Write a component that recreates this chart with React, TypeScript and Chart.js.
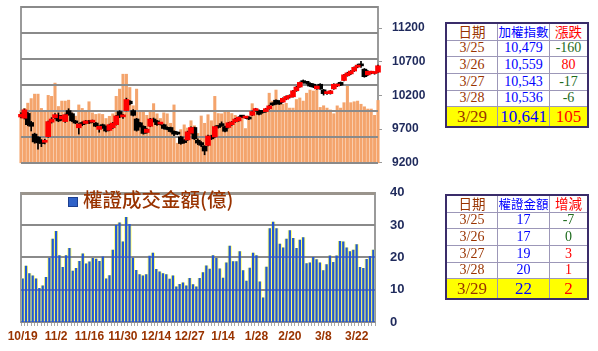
import React, { useEffect, useRef } from 'react';
import { Chart, registerables } from 'chart.js';

Chart.register(...registerables);

// ---------- DATA ----------
const DATES = [
  '10/19', '10/22', '10/23', '10/24', '10/25', '10/26', '10/29', '10/30', '10/31', '11/1',
  '11/2', '11/5', '11/6', '11/7', '11/8', '11/9', '11/12', '11/13', '11/14', '11/15',
  '11/16', '11/19', '11/20', '11/21', '11/22', '11/23', '11/26', '11/27', '11/28', '11/29',
  '11/30', '12/3', '12/4', '12/5', '12/6', '12/7', '12/10', '12/11', '12/12', '12/13',
  '12/14', '12/17', '12/18', '12/19', '12/20', '12/21', '12/22', '12/24', '12/25', '12/26',
  '12/27', '12/28', '1/2', '1/3', '1/4', '1/7', '1/8', '1/9', '1/10', '1/11',
  '1/14', '1/15', '1/16', '1/17', '1/18', '1/21', '1/22', '1/23', '1/24', '1/25',
  '1/28', '1/29', '1/30', '2/11', '2/12', '2/13', '2/14', '2/15', '2/18', '2/19',
  '2/20', '2/21', '2/22', '2/25', '2/26', '2/27', '3/4', '3/5', '3/6', '3/7',
  '3/8', '3/11', '3/12', '3/13', '3/14', '3/15', '3/18', '3/19', '3/20', '3/21',
  '3/22', '3/25', '3/26', '3/27', '3/28', '3/29',
];

const OPEN = [
  9880, 9862, 9933, 9798, 9626, 9580, 9532, 9505, 9588, 9803,
  9868, 9905, 9850, 9812, 9975, 9929, 9822, 9720, 9798, 9784,
  9822, 9803, 9790, 9696, 9766, 9742, 9682, 9720, 9766, 9961,
  9882, 9975, 10115, 9975, 9850, 9794, 9742, 9650, 9742, 9850,
  9822, 9775, 9766, 9724, 9724, 9668, 9650, 9584, 9530, 9540,
  9640, 9724, 9535, 9500, 9444, 9458, 9598, 9584, 9738, 9780,
  9738, 9724, 9766, 9808, 9822, 9892, 9864, 9878, 9905, 9975,
  9975, 9961, 9960, 10003, 10080, 10129, 10115, 10101, 10143, 10171,
  10180, 10269, 10325, 10408, 10390, 10380, 10366, 10297, 10366, 10283,
  10227, 10227, 10297, 10339, 10394, 10422, 10492, 10520, 10562, 10620,
  10665, 10590, 10505, 10530, 10525, 10545,
];
const HIGH = [
  9945, 10000, 9950, 9815, 9640, 9590, 9545, 9550, 9820, 9870,
  9930, 9940, 9905, 9925, 10003, 9940, 9830, 9785, 9810, 9830,
  9830, 9835, 9800, 9750, 9775, 9750, 9775, 9800, 9905, 9975,
  9920, 10160, 10125, 9990, 9860, 9800, 9750, 9710, 9860, 9865,
  9830, 9795, 9775, 9735, 9730, 9675, 9660, 9595, 9545, 9670,
  9735, 9730, 9555, 9515, 9455, 9610, 9610, 9745, 9750, 9808,
  9745, 9800, 9815, 9860, 9885, 9900, 9885, 9885, 9970, 10010,
  9985, 9970, 10010, 10055, 10090, 10135, 10125, 10165, 10195, 10210,
  10275, 10335, 10400, 10430, 10400, 10390, 10375, 10345, 10375, 10290,
  10250, 10275, 10375, 10375, 10400, 10515, 10545, 10570, 10625, 10665,
  10705, 10600, 10570, 10560, 10550, 10650,
];
const LOW = [
  9865, 9850, 9750, 9672, 9490, 9403, 9440, 9480, 9580, 9790,
  9850, 9810, 9830, 9800, 9905, 9810, 9780, 9626, 9750, 9775,
  9780, 9795, 9735, 9654, 9710, 9660, 9675, 9710, 9760, 9870,
  9860, 9970, 10060, 9895, 9670, 9730, 9625, 9640, 9735, 9805,
  9755, 9760, 9700, 9690, 9655, 9602, 9615, 9475, 9490, 9530,
  9630, 9545, 9470, 9440, 9319, 9450, 9545, 9575, 9715, 9740,
  9660, 9715, 9755, 9800, 9815, 9870, 9855, 9840, 9900, 9965,
  9910, 9935, 9950, 9995, 10050, 10065, 10065, 10095, 10135, 10160,
  10175, 10260, 10320, 10380, 10370, 10330, 10315, 10290, 10290, 10205,
  10215, 10220, 10290, 10330, 10345, 10415, 10485, 10510, 10555, 10610,
  10615, 10470, 10495, 10520, 10515, 10540,
];
const CLOSE = [
  9920, 9987, 9766, 9742, 9510, 9496, 9486, 9532, 9812, 9850,
  9915, 9822, 9896, 9915, 9915, 9822, 9790, 9776, 9766, 9822,
  9790, 9822, 9742, 9742, 9720, 9672, 9766, 9790, 9896, 9882,
  9888, 10139, 10077, 9905, 9682, 9738, 9636, 9700, 9850, 9815,
  9766, 9780, 9710, 9696, 9664, 9626, 9626, 9486, 9500, 9660,
  9724, 9556, 9493, 9460, 9375, 9598, 9556, 9738, 9724, 9752,
  9668, 9794, 9808, 9850, 9878, 9878, 9878, 9850, 9961, 10003,
  9919, 9947, 10003, 10045, 10059, 10073, 10073, 10157, 10185, 10200,
  10269, 10325, 10394, 10390, 10380, 10339, 10325, 10339, 10297, 10227,
  10241, 10269, 10366, 10366, 10353, 10506, 10534, 10562, 10618, 10650,
  10639, 10479, 10559, 10543, 10536, 10641,
];

// TAIEX turnover (億)
const TAIEX_VOLUME = [
  1000, 1050, 1150, 1238, 1324, 1324, 1049, 1006, 1300, 1281,
  1537, 1086, 1190, 1190, 1208, 964, 900, 1116, 1049, 976,
  1177, 964, 933, 945, 933, 854, 897, 945, 1281, 1421,
  1708, 1708, 1452, 1100, 1421, 980, 988, 915, 1006, 1141,
  945, 854, 964, 945, 762, 1116, 378, 640, 732, 671,
  811, 714, 567, 903, 762, 927, 811, 1281, 950, 945,
  975, 976, 950, 915, 836, 885, 660, 903, 1140, 975,
  930, 1000, 1050, 1342, 1190, 1403, 1141, 1129, 1147, 1055,
  1055, 1220, 1250, 1190, 1342, 1403, 1385, 1403, 1068, 1100,
  1055, 1019, 946, 1098, 1055, 1159, 1507, 1159, 1177, 1190,
  1129, 1080, 1037, 1037, 915, 1202,
];

// 權證成交金額(億)
const WARRANT = [
  13.4, 17.3, 15, 14.3, 13.4, 10.4, 11.2, 13.8, 19.8, 25.7,
  28.1, 20.6, 16.9, 20.6, 22.8, 15.8, 16.6, 18.8, 21.1, 18,
  18.6, 19.7, 19.5, 18.8, 20.2, 13.4, 14.4, 22.3, 29.9, 30.7,
  24.8, 32.4, 30.2, 19.8, 16, 14.7, 14.3, 14.7, 20.4, 21.3,
  16.3, 15.5, 15, 14.7, 13.3, 14.3, 10.9, 11.7, 12.1, 11.2,
  13.5, 11.6, 10.9, 13.5, 15.3, 17.4, 16.4, 20.6, 19.7, 16.5,
  13.6, 18.3, 23.5, 18.7, 18.7, 21.8, 15.9, 12.7, 16.7, 21.3,
  20.6, 12.4, 7.5, 17, 28.9, 30.9, 28.9, 24.1, 23, 25.7,
  28.3, 25.9, 22.8, 25.4, 26.1, 18.1, 18.3, 20, 19.3, 18.3,
  15.9, 17.8, 20.5, 18.5, 20.5, 25, 24.8, 23, 21.8, 22.3,
  24, 16.9, 16.6, 19.4, 20.3, 22.3,
];

const PRICE_TICKS = [9200, 9700, 10200, 10700, 11200];
const VOLUME_GRID = [0, 500, 1000, 1500, 2000, 2500, 3000];
const WARRANT_TICKS = [0, 10, 20, 30, 40];

const T_DATES = ['3/25', '3/26', '3/27', '3/28', '3/29'];
const T1_HEAD = ['日期', '加權指數', '漲跌'];
const T1_INDEX = ['10,479', '10,559', '10,543', '10,536', '10,641'];
const T1_CHANGE = [-160, 80, -17, -6, 105];
const T2_HEAD = ['日期', '權證金額', '增減'];
const T2_AMOUNT = ['17', '17', '19', '20', '22'];
const T2_CHANGE = [-7, 0, 3, 1, 2];

const LEGEND_TEXT = '權證成交金額(億)';

// ---------- STYLE ----------
const AXIS_FONT = '"Liberation Sans", Arial, sans-serif';
const GRID = '#8a8a8a';
const FRAME = '#9a9a9a';
const NAVY = '#1f2a5c';
const BROWN = '#993300';

// horizontal grid lines at scale values, drawn right after one dataset (so they sit over the bars, under the candles)
const hGridPlugin = {
  id: 'hgrid',
  afterDatasetDraw(chart: any, args: any, opts: any) {
    if (!opts || args.index !== opts.afterIndex) return;
    const { ctx, chartArea } = chart;
    const scale = chart.scales[opts.scaleId];
    if (!scale) return;
    ctx.save();
    (opts.values as number[]).forEach((v) => {
      const strong = opts.strongValue === v;
      const w = strong ? opts.strongWidth : opts.width;
      const y = Math.round(scale.getPixelForValue(v)) + (w % 2 ? 0.5 : 0);
      ctx.strokeStyle = strong ? opts.strongColor : opts.color;
      ctx.lineWidth = w;
      ctx.beginPath();
      ctx.moveTo(chartArea.left, y);
      ctx.lineTo(chartArea.right, y);
      ctx.stroke();
    });
    ctx.restore();
  },
};

function TopChart() {
  const ref = useRef<HTMLCanvasElement>(null);
  useEffect(() => {
    const up = OPEN.map((o, i) => (CLOSE[i] >= o ? [o, CLOSE[i]] : null));
    const down = OPEN.map((o, i) => (CLOSE[i] < o ? [CLOSE[i], o] : null));
    const wicks = LOW.map((l, i) => [l, HIGH[i]]);
    const chart = new Chart(ref.current as HTMLCanvasElement, {
      type: 'bar',
      data: {
        labels: DATES,
        datasets: [
          { label: 'up', data: up as any, yAxisID: 'yPrice', backgroundColor: '#ff0000', barThickness: 5, grouped: false, order: 0, minBarLength: 2, clip: false } as any,
          { label: 'down', data: down as any, yAxisID: 'yPrice', backgroundColor: '#000000', barThickness: 5, grouped: false, order: 0, minBarLength: 2, clip: false } as any,
          { label: 'wick', data: wicks as any, yAxisID: 'yPrice', backgroundColor: '#000000', barThickness: 1, grouped: false, order: 1, clip: false } as any,
          { label: 'vol', data: TAIEX_VOLUME, yAxisID: 'yVol', backgroundColor: '#f4a46c', barThickness: 2.4, grouped: false, order: 2, clip: false } as any,
        ],
      },
      plugins: [hGridPlugin as any],
      options: {
        responsive: false,
        animation: false,
        devicePixelRatio: 1,
        layout: { padding: { left: 21, right: 12, top: 16, bottom: 10 } },
        plugins: {
          legend: { display: false },
          tooltip: { enabled: false },
          hgrid: { afterIndex: 3, scaleId: 'yVol', values: VOLUME_GRID, color: GRID, width: 2, strongValue: -1, strongColor: GRID, strongWidth: 2 },
        } as any,
        scales: {
          x: { type: 'category', display: false, offset: false, grid: { offset: false } },
          yVol: {
            type: 'linear', position: 'left', min: 0, max: 3000,
            afterBuildTicks: (s: any) => { s.ticks = VOLUME_GRID.map((v) => ({ value: v })); },
            ticks: { display: false },
            grid: { display: false, drawTicks: false },
            border: { display: true, color: FRAME, width: 2 },
          },
          yPrice: {
            type: 'linear', position: 'right', min: 9200, max: 11510,
            afterBuildTicks: (s: any) => { s.ticks = PRICE_TICKS.map((v) => ({ value: v })); },
            afterFit: (s: any) => { s.width = 50; },
            ticks: {
              color: NAVY, padding: 10, font: { family: AXIS_FONT, size: 12, weight: 'bold' },
              callback: (v: any) => String(v),
            },
            grid: { drawOnChartArea: false, drawTicks: true, tickLength: 4, color: FRAME },
            border: { display: true, color: FRAME, width: 2 },
          },
        } as any,
      },
    });
    return () => chart.destroy();
  }, []);
  return <canvas ref={ref} width={440} height={190} style={{ position: 'absolute', left: 0, top: -10, width: 440, height: 190 }} />;
}

function BottomChart() {
  const ref = useRef<HTMLCanvasElement>(null);
  useEffect(() => {
    const chart = new Chart(ref.current as HTMLCanvasElement, {
      type: 'bar',
      data: {
        labels: DATES,
        datasets: [
          { label: 'warrant', data: WARRANT, yAxisID: 'y', backgroundColor: '#2258d4', barThickness: 1.6, grouped: false, order: 0 } as any,
          { label: 'glow', data: WARRANT, yAxisID: 'y', backgroundColor: '#ffff66', barPercentage: 1, categoryPercentage: 1, grouped: false, order: 1 } as any,
        ],
      },
      plugins: [hGridPlugin as any],
      options: {
        responsive: false,
        animation: false,
        devicePixelRatio: 1,
        layout: { padding: { left: 21, right: 25, top: 20, bottom: 5 } },
        plugins: {
          legend: { display: false },
          tooltip: { enabled: false },
          hgrid: {
            afterIndex: 1, scaleId: 'y', values: WARRANT_TICKS, color: GRID, width: 2,
            strongValue: 40, strongColor: '#9a948c', strongWidth: 3,
          },
        } as any,
        scales: {
          x: {
            type: 'category', offset: true,
            grid: { offset: true, drawOnChartArea: false, drawTicks: true, tickLength: 4, color: '#a6a6a6' },
            border: { display: true, color: FRAME, width: 2 },
            afterFit: (s: any) => { s.height = 24; },
            ticks: {
              autoSkip: false, maxRotation: 0, minRotation: 0, padding: 3,
              color: BROWN, font: { family: AXIS_FONT, size: 12, weight: 'bold' },
              callback: (_v: any, i: number) => (i % 10 === 0 ? DATES[i] : ''),
            },
          },
          y: {
            type: 'linear', position: 'right', min: 0, max: 40,
            afterBuildTicks: (s: any) => { s.ticks = WARRANT_TICKS.map((v) => ({ value: v })); },
            afterFit: (s: any) => { s.width = 40; },
            ticks: { color: NAVY, padding: 15, font: { family: AXIS_FONT, size: 13, weight: 'bold' } },
            grid: { display: false, drawTicks: false },
            border: { display: true, color: FRAME, width: 2 },
          },
          yL: {
            type: 'linear', position: 'left', display: true,
            ticks: { display: false },
            grid: { display: false, drawTicks: false },
            border: { display: true, color: FRAME, width: 2 },
          },
        } as any,
      },
    });
    return () => chart.destroy();
  }, []);
  return <canvas ref={ref} width={440} height={181} style={{ position: 'absolute', left: 0, top: 170, width: 440, height: 181 }} />;
}

const changeColor = (v: number) => (v > 0 ? '#ff0000' : '#1e6b1e');

function InfoTable(props: { top: number; head: string[]; headColors: string[]; values: string[]; changes: number[] }) {
  const { top, head, headColors, values, changes } = props;
  const cjk = '"Noto Sans CJK TC", "Noto Sans CJK SC", sans-serif';
  const serif = '"Liberation Serif", "Noto Sans CJK TC", serif';
  const cell = (content: React.ReactNode, color: string, opts: any = {}) => (
    <div style={{
      background: opts.bg || '#ffffff', color, display: 'flex', alignItems: 'center', justifyContent: 'center',
      fontFamily: opts.font || serif, fontSize: opts.size || 14, lineHeight: 1, whiteSpace: 'nowrap', overflow: 'hidden',
    }}>{content}</div>
  );
  const cells: React.ReactNode[] = [];
  head.forEach((h, i) => cells.push(<React.Fragment key={'h' + i}>{cell(h, headColors[i], { font: cjk, size: i === 1 ? 12.5 : 13.5 })}</React.Fragment>));
  T_DATES.forEach((d, r) => {
    const last = r === T_DATES.length - 1;
    const o = last ? { bg: '#ffff00', size: 17 } : {};
    cells.push(<React.Fragment key={'d' + r}>{cell(d, BROWN, o)}</React.Fragment>);
    cells.push(<React.Fragment key={'v' + r}>{cell(values[r], '#0000ff', o)}</React.Fragment>);
    cells.push(<React.Fragment key={'c' + r}>{cell(String(changes[r]), changeColor(changes[r]), o)}</React.Fragment>);
  });
  return (
    <div style={{
      position: 'absolute', left: 445, top, width: 144, boxSizing: 'border-box', border: '2px solid #3a2c6a',
      background: '#9c97b8', display: 'grid', gridTemplateColumns: '50px 51px 37px',
      gridTemplateRows: '15.5px 15.7px 15.7px 15.7px 15.7px 19px', gap: 1,
    }}>
      {cells}
    </div>
  );
}

export default function App() {
  return (
    <div style={{ position: 'fixed', left: 0, top: 0, width: 598, height: 351, background: '#ffffff', overflow: 'hidden' }}>
      <TopChart />
      <BottomChart />
      <div style={{ position: 'absolute', left: 68, top: 197, width: 8, height: 8, background: '#2f62c8', border: '1px solid #1d3f8f' }} />
      <div style={{
        position: 'absolute', left: 83, top: 188, fontFamily: '"Noto Sans CJK TC", sans-serif', fontSize: 19.5,
        fontWeight: 500, lineHeight: '22px', color: BROWN, whiteSpace: 'nowrap',
      }}>{LEGEND_TEXT}</div>
      <InfoTable top={22} head={T1_HEAD} headColors={[BROWN, '#0000ff', '#ff0000']} values={T1_INDEX} changes={T1_CHANGE} />
      <InfoTable top={194} head={T2_HEAD} headColors={[BROWN, '#0000ff', '#ff0000']} values={T2_AMOUNT} changes={T2_CHANGE} />
    </div>
  );
}
